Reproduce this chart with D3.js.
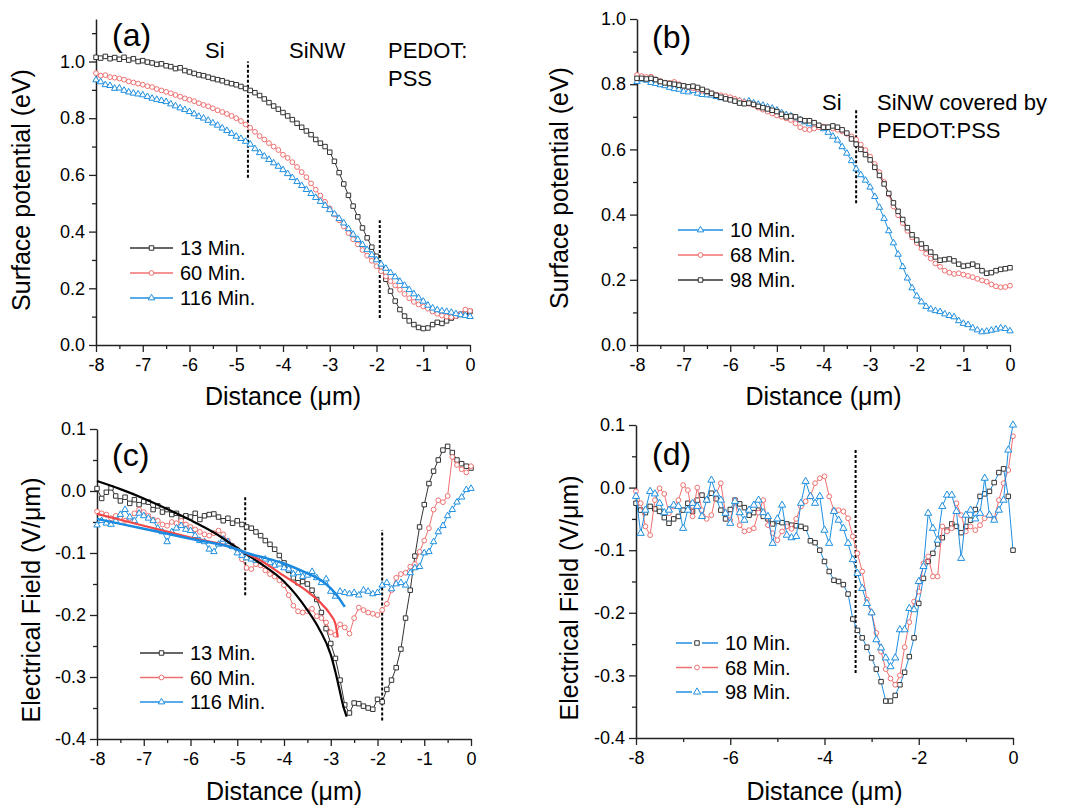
<!DOCTYPE html>
<html>
<head>
<meta charset="utf-8">
<script src="https://cdn.jsdelivr.net/npm/d3@7"></script>
<style>
  body { margin: 0; background: #fff; }
  text { font-family: "Liberation Sans", Arial, sans-serif; fill: #000; }
</style>
</head>
<body>
<div id="chart"></div>
<script>
// distance grid (um), shared by every measured curve
var dist = [
  -8,-7.9,-7.8,-7.7,-7.6,-7.5,-7.4,-7.3,-7.2,-7.1,
  -7,-6.9,-6.8,-6.7,-6.6,-6.5,-6.4,-6.3,-6.2,-6.1,
  -6,-5.9,-5.8,-5.7,-5.6,-5.5,-5.4,-5.3,-5.2,-5.1,
  -5,-4.9,-4.8,-4.7,-4.6,-4.5,-4.4,-4.3,-4.2,-4.1,
  -4,-3.9,-3.8,-3.7,-3.6,-3.5,-3.4,-3.3,-3.2,-3.1,
  -3,-2.9,-2.8,-2.7,-2.6,-2.5,-2.4,-2.3,-2.2,-2.1,
  -2,-1.9,-1.8,-1.7,-1.6,-1.5,-1.4,-1.3,-1.2,-1.1,
  -1,-0.9,-0.8,-0.7,-0.6,-0.5,-0.4,-0.3,-0.2,-0.1,
  0];

// (a) surface potential (eV)
var spA13 = [
  1.015,1.012,1.018,1.010,1.014,1.008,1.015,1.005,1.010,1.000,
  1.003,0.998,0.995,0.990,0.992,0.985,0.982,0.975,0.978,0.968,
  0.963,0.958,0.953,0.950,0.945,0.940,0.936,0.932,0.926,0.922,
  0.918,0.912,0.905,0.898,0.890,0.880,0.868,0.855,0.843,0.832,
  0.820,0.808,0.795,0.782,0.768,0.755,0.742,0.725,0.712,0.700,
  0.680,0.648,0.608,0.568,0.528,0.490,0.452,0.413,0.378,0.345,
  0.313,0.275,0.232,0.190,0.155,0.125,0.102,0.085,0.072,0.062,
  0.058,0.060,0.072,0.080,0.076,0.085,0.095,0.103,0.108,0.112,
  0.118];
var spA60 = [
  0.959,0.950,0.952,0.945,0.943,0.940,0.936,0.930,0.926,0.922,
  0.918,0.913,0.910,0.903,0.898,0.893,0.888,0.882,0.876,0.870,
  0.865,0.860,0.853,0.847,0.842,0.835,0.828,0.822,0.815,0.808,
  0.800,0.790,0.778,0.766,0.752,0.737,0.725,0.712,0.700,0.688,
  0.671,0.660,0.645,0.628,0.610,0.592,0.570,0.548,0.527,0.505,
  0.482,0.460,0.440,0.418,0.395,0.373,0.355,0.335,0.315,0.297,
  0.278,0.260,0.242,0.225,0.210,0.195,0.180,0.165,0.152,0.143,
  0.136,0.128,0.118,0.110,0.104,0.100,0.098,0.102,0.110,0.125,
  0.120];
var spA116 = [
  0.935,0.928,0.918,0.915,0.905,0.906,0.898,0.892,0.888,0.885,
  0.882,0.876,0.870,0.866,0.862,0.858,0.850,0.843,0.836,0.830,
  0.823,0.815,0.806,0.800,0.792,0.783,0.775,0.765,0.756,0.746,
  0.736,0.728,0.718,0.708,0.692,0.678,0.666,0.654,0.642,0.630,
  0.618,0.604,0.590,0.576,0.562,0.548,0.534,0.520,0.506,0.492,
  0.477,0.462,0.446,0.430,0.410,0.390,0.372,0.354,0.336,0.318,
  0.300,0.285,0.270,0.255,0.240,0.224,0.210,0.195,0.180,0.166,
  0.154,0.140,0.130,0.124,0.120,0.118,0.115,0.110,0.106,0.104,
  0.100];

// (b) surface potential (eV)
var spB10 = [
  .808,.815,.812,.805,.802,.798,.795,.790,.786,.784,
  .778,.776,.780,.772,.768,.767,.766,.762,.758,.757,
  .755,.752,.748,.745,.748,.742,.738,.735,.730,.726,
  .720,.712,.706,.702,.696,.690,.684,.678,.674,.670,
  .663,.652,.640,.628,.608,.588,.565,.540,.522,.505,
  .484,.455,.422,.388,.350,.313,.278,.240,.205,.175,
  .150,.132,.118,.110,.105,.102,.095,.090,.086,.074,
  .066,.062,.052,.046,.040,.042,.045,.048,.052,.050,
  .043];
var spB68 = [
  .828,.825,.822,.823,.815,.810,.805,.804,.807,.800,
  .795,.792,.788,.785,.780,.777,.772,.768,.766,.763,
  .760,.755,.750,.745,.740,.736,.728,.722,.716,.710,
  .704,.700,.695,.690,.680,.668,.662,.660,.664,.668,
  .670,.668,.664,.660,.655,.648,.640,.630,.615,.598,
  .578,.555,.530,.500,.462,.425,.398,.374,.350,.330,
  .313,.296,.280,.265,.250,.240,.228,.222,.218,.220,
  .216,.212,.208,.203,.198,.194,.186,.180,.177,.178,
  .182];
var spB98 = [
  .818,.818,.816,.818,.814,.808,.804,.802,.800,.797,
  .795,.792,.794,.790,.784,.778,.772,.766,.760,.755,
  .752,.748,.742,.740,.742,.738,.732,.728,.724,.720,
  .716,.708,.700,.702,.700,.692,.688,.688,.682,.674,
  .668,.668,.672,.668,.660,.650,.632,.616,.600,.584,
  .568,.545,.520,.494,.465,.436,.410,.385,.360,.338,
  .322,.310,.298,.285,.270,.260,.262,.264,.258,.248,
  .242,.244,.248,.242,.228,.220,.222,.228,.232,.234,
  .237];

// (c) electrical field (V/um)
var efC13 = [
  .004,-.012,-.002,.005,-.008,-.016,-.010,-.020,-.014,-.022,
  -.017,-.018,-.030,-.024,-.034,-.030,-.038,-.036,-.044,-.040,
  -.042,-.036,-.046,-.040,-.038,-.037,-.042,-.048,-.044,-.052,
  -.048,-.054,-.058,-.060,-.066,-.072,-.080,-.086,-.094,-.104,
  -.116,-.128,-.140,-.148,-.146,-.150,-.160,-.175,-.196,-.222,
  -.246,-.270,-.305,-.345,-.358,-.342,-.343,-.347,-.350,-.352,
  -.336,-.340,-.320,-.305,-.285,-.255,-.205,-.160,-.105,-.058,
  -.022,.012,.032,.050,.066,.072,.062,.050,.044,.040,
  .037];
var efC60 = [
  -.033,-.036,-.038,-.044,-.040,-.042,-.048,-.044,-.036,-.030,
  -.034,-.040,-.046,-.048,-.054,-.056,-.050,-.052,-.048,-.054,
  -.058,-.062,-.066,-.070,-.072,-.068,-.064,-.070,-.080,-.088,
  -.094,-.110,-.124,-.126,-.118,-.120,-.128,-.134,-.138,-.144,
  -.152,-.168,-.185,-.194,-.196,-.194,-.190,-.202,-.205,-.212,
  -.228,-.232,-.215,-.220,-.230,-.205,-.188,-.192,-.196,-.198,
  -.200,-.192,-.182,-.160,-.140,-.134,-.132,-.122,-.118,-.098,
  -.080,-.060,-.030,-.015,-.018,-.008,.055,.042,.035,.030,
  .040];
var efC116 = [
  -.055,-.048,-.052,-.054,-.048,-.038,-.030,-.042,-.048,-.036,
  -.040,-.044,-.048,-.060,-.066,-.082,-.066,-.060,-.056,-.062,
  -.064,-.072,-.080,-.082,-.094,-.098,-.086,-.078,-.082,-.090,
  -.100,-.104,-.108,-.110,-.112,-.112,-.110,-.116,-.120,-.118,
  -.124,-.126,-.134,-.132,-.138,-.136,-.130,-.140,-.148,-.142,
  -.162,-.170,-.162,-.164,-.166,-.164,-.168,-.160,-.162,-.166,
  -.164,-.152,-.148,-.158,-.150,-.148,-.152,-.132,-.124,-.122,
  -.100,-.098,-.082,-.066,-.056,-.040,-.030,-.018,-.010,.002,
  .004];

// (c) fitted curves
var fit13x = [-8,-7.5,-7,-6.5,-6,-5.5,-5,-4.8,-4.5,-4,-3.5,-3.25,-3,-2.9,-2.8,-2.75,-2.66];
var fit13y = [.016,.003,-.012,-.029,-.047,-.067,-.092,-.102,-.117,-.146,-.192,-.222,-.264,-.292,-.325,-.342,-.364];
var fit60x = [-8,-7,-6,-5,-4.8,-4.5,-4,-3.5,-3.25,-3,-2.9,-2.85];
var fit60y = [-.037,-.056,-.075,-.094,-.101,-.112,-.137,-.162,-.178,-.200,-.214,-.236];
var fit116x = [-8,-7,-6,-5,-4.8,-4.5,-4,-3.5,-3.25,-3,-2.85,-2.7];
var fit116y = [-.045,-.061,-.077,-.094,-.100,-.106,-.117,-.133,-.142,-.157,-.170,-.187];

// (d) electrical field (V/um)
var efD10 = [
  -.025,-.036,-.040,-.030,-.034,-.038,-.048,-.057,-.050,-.046,
  -.036,-.025,-.038,-.020,-.012,-.020,-.009,-.018,-.036,-.050,
  -.035,-.020,-.026,-.032,-.044,-.040,-.036,-.046,-.050,-.058,
  -.054,-.056,-.058,-.060,-.061,-.062,-.065,-.085,-.088,-.100,
  -.118,-.134,-.148,-.150,-.155,-.170,-.210,-.228,-.240,-.255,
  -.272,-.290,-.310,-.341,-.341,-.332,-.315,-.295,-.270,-.240,
  -.185,-.145,-.118,-.105,-.090,-.080,-.068,-.058,-.062,-.072,
  -.062,-.052,-.035,-.014,-.010,-.006,.008,.024,.030,-.014,
  -.100];
var efD68 = [
  -.006,-.025,-.062,-.076,-.020,-.001,-.010,-.041,-.030,-.020,
  .004,-.004,-.046,.000,-.036,-.050,-.044,-.010,.007,-.041,
  -.052,-.020,-.060,-.070,-.068,-.065,-.040,-.020,-.060,-.073,
  -.084,-.070,-.062,-.066,-.050,-.030,-.022,-.014,.007,.015,
  .018,-.014,-.036,-.036,-.038,-.049,-.078,-.105,-.134,-.179,
  -.200,-.232,-.262,-.290,-.305,-.315,-.300,-.255,-.215,-.182,
  -.166,-.121,-.110,-.142,-.142,-.062,-.070,-.065,-.025,-.044,
  -.070,-.062,-.068,-.060,-.049,-.044,-.050,-.020,.007,.028,
  .082];
var efD98 = [
  -.014,-.073,-.036,-.006,-.010,-.025,-.040,-.036,-.028,-.030,
  -.065,-.036,-.025,-.030,-.046,-.020,.012,-.010,-.020,-.041,
  -.057,-.022,-.040,-.052,-.036,-.028,-.020,-.040,-.046,-.089,
  -.050,-.028,-.076,-.080,-.078,-.025,.010,-.014,-.025,-.014,
  -.068,-.089,-.038,-.052,-.065,-.089,-.115,-.137,-.161,-.185,
  -.200,-.243,-.256,-.272,-.286,-.272,-.227,-.227,-.193,-.195,
  -.150,-.126,-.041,-.065,-.084,-.030,-.012,-.012,-.038,-.113,
  -.044,-.036,-.050,-.041,.015,-.044,-.052,-.036,-.020,.060,
  .100];

// boundary markers (dashed verticals): x, y from, y to
var dashA = [[-4.75, 0.59, 1.0], [-1.93, 0.095, 0.44]];
var dashB = [[-3.3, 0.435, 0.723]];
var dashC = [[-4.83, -0.168, -0.009], [-1.9, -0.37, -0.063]];
var dashD = [[-3.34, -0.296, 0.061]];

// ticks
var xMajor1 = [-8,-7,-6,-5,-4,-3,-2,-1,0];
var xMinor1 = [-7.5,-6.5,-5.5,-4.5,-3.5,-2.5,-1.5,-0.5];
var xMajor2 = [-8,-6,-4,-2,0];
var xMinor2 = [-7,-5,-3,-1];
var yMajorSP = [0,0.2,0.4,0.6,0.8,1.0];
var yMinorA = [0.1,0.3,0.5,0.7,0.9,1.1];
var yMinorB = [0.1,0.3,0.5,0.7,0.9];
var yMajorEF = [-0.4,-0.3,-0.2,-0.1,0,0.1];
var yMinorEF = [-0.35,-0.25,-0.15,-0.05,0.05];

var legendA = ["13 Min.", "60 Min.", "116 Min."];
var legendB = ["10 Min.", "68 Min.", "98 Min."];
var legendC = ["13 Min.", "60 Min.", "116 Min."];
var legendD = ["10 Min.", "68 Min.", "98 Min."];

var BLACK = "#333333", RED = "#f07070", BLUE = "#1f8fe0";

var svg = d3.select("#chart").append("svg")
    .attr("width", 1071)
    .attr("height", 805)
    .style("background", "#fff");

var fmt1 = function(d) { return d.toFixed(1); };
var fmt0 = function(d) { return String(d); };

function drawPanel(p) {
  var x = d3.scaleLinear().domain([-8, 0]).range([p.left, p.right]);
  var y = d3.scaleLinear().domain(p.yDomain).range([p.bottom, p.top]);
  var g = svg.append("g");

  // minor ticks
  g.append("g")
      .attr("transform", "translate(0," + p.bottom + ")")
      .call(d3.axisBottom(x).tickValues(p.xMinor).tickSize(4).tickFormat(""))
      .call(function(a) { a.select(".domain").remove(); });
  g.append("g")
      .attr("transform", "translate(" + p.left + ",0)")
      .call(d3.axisLeft(y).tickValues(p.yMinor).tickSize(4).tickFormat(""))
      .call(function(a) { a.select(".domain").remove(); });

  // major axes
  g.append("g")
      .attr("transform", "translate(0," + p.bottom + ")")
      .call(d3.axisBottom(x).tickValues(p.xMajor).tickSize(7).tickSizeOuter(0)
        .tickPadding(6).tickFormat(fmt0));
  g.append("g")
      .attr("transform", "translate(" + p.left + ",0)")
      .call(d3.axisLeft(y).tickValues(p.yMajor).tickSize(7).tickSizeOuter(0)
        .tickPadding(4).tickFormat(fmt1));
  g.selectAll(".tick line").attr("stroke", "#222").attr("stroke-width", 1.3);
  g.selectAll(".domain").attr("stroke", "#222").attr("stroke-width", 1.5);
  g.selectAll(".tick text").style("font-size", "18px")
      .style("font-family", "'Liberation Sans', Arial, sans-serif").attr("fill", "#000");

  // axis titles
  g.append("text")
      .attr("x", (p.left + p.right) / 2)
      .attr("y", p.xTitleY)
      .style("text-anchor", "middle")
      .style("font-size", "25px")
      .text("Distance (\u03bcm)");
  g.append("text")
      .attr("transform", "translate(" + p.yTitleX + "," + p.yTitleC + ") rotate(-90)")
      .style("text-anchor", "middle")
      .style("font-size", "25px")
      .text(p.yTitle);

  // dashed boundaries
  g.selectAll(".bound")
      .data(p.dashes)
      .enter()
      .append("line")
      .attr("x1", function(d) { return x(d[0]); })
      .attr("x2", function(d) { return x(d[0]); })
      .attr("y1", function(d) { return y(d[1]); })
      .attr("y2", function(d) { return y(d[2]); })
      .attr("stroke", "#000")
      .attr("stroke-width", 2)
      .attr("stroke-dasharray", "3,2");

  // measured curves
  p.series.forEach(function(s) {
    var line = d3.line()
        .x(function(d, i) { return x(dist[i]); })
        .y(function(d) { return y(d); });
    g.append("path")
        .datum(s.values)
        .attr("fill", "none")
        .attr("stroke", s.line)
        .attr("stroke-width", 1)
        .attr("d", line);
    g.selectAll(null)
        .data(s.values)
        .enter()
        .append("path")
        .attr("d", d3.symbol().type(s.symbol).size(s.size))
        .attr("transform", function(d, i) {
          return "translate(" + x(dist[i]) + "," + y(d) + ")";
        })
        .attr("fill", "#fff")
        .attr("stroke", s.color)
        .attr("stroke-width", 1);
  });

  // fitted curves
  (p.fits || []).forEach(function(f) {
    var line = d3.line()
        .curve(d3.curveMonotoneX)
        .x(function(d, i) { return x(f.xs[i]); })
        .y(function(d) { return y(d); });
    g.append("path")
        .datum(f.ys)
        .attr("fill", "none")
        .attr("stroke", f.color)
        .attr("stroke-width", f.width)
        .attr("d", line);
  });

  // legend
  var lg = p.legend;
  p.legendOrder.forEach(function(si, k) {
    var s = p.series[si];
    var ly = lg.y + k * lg.dy;
    var mid = (lg.x0 + lg.x1) / 2;
    if (lg.gap) {
      g.append("line").attr("x1", lg.x0).attr("x2", mid - 5).attr("y1", ly).attr("y2", ly)
          .attr("stroke", s.line).attr("stroke-width", 1.5);
      g.append("line").attr("x1", mid + 5).attr("x2", lg.x1).attr("y1", ly).attr("y2", ly)
          .attr("stroke", s.line).attr("stroke-width", 1.5);
    } else {
      g.append("line").attr("x1", lg.x0).attr("x2", lg.x1).attr("y1", ly).attr("y2", ly)
          .attr("stroke", s.line).attr("stroke-width", 1.5);
    }
    g.append("path")
        .attr("d", d3.symbol().type(s.symbol).size(s.size))
        .attr("transform", "translate(" + mid + "," + ly + ")")
        .attr("fill", "#fff")
        .attr("stroke", s.color)
        .attr("stroke-width", 1);
    g.append("text")
        .attr("x", lg.x1 + 7)
        .attr("y", ly + 7)
        .style("font-size", "20px")
        .text(p.legendText[k]);
  });

  // annotations
  p.notes.forEach(function(n) {
    g.append("text")
        .attr("x", n[1])
        .attr("y", n[2])
        .style("font-size", n[3] + "px")
        .text(n[0]);
  });
}

drawPanel({
  left: 96, right: 470, top: 19, bottom: 345, yDomain: [0, 1.15],
  xMajor: xMajor1, xMinor: xMinor1, yMajor: yMajorSP, yMinor: yMinorA,
  xTitleY: 405, yTitleX: 30, yTitleC: 190, yTitle: "Surface potential (eV)",
  dashes: dashA,
  series: [
    {values: spA13, color: BLACK, line: BLACK, symbol: d3.symbolSquare, size: 20},
    {values: spA60, color: RED, line: RED, symbol: d3.symbolCircle, size: 18},
    {values: spA116, color: BLUE, line: BLUE, symbol: d3.symbolTriangle, size: 18}
  ],
  legendOrder: [0, 1, 2], legendText: legendA,
  legend: {x0: 130, x1: 173, y: 248, dy: 25},
  notes: [["(a)", 112, 46, 32], ["Si", 205, 58, 22], ["SiNW", 289, 58, 22],
          ["PEDOT:", 388, 58, 22], ["PSS", 388, 86, 22]]
});

drawPanel({
  left: 637, right: 1010, top: 19, bottom: 345, yDomain: [0, 1.0],
  xMajor: xMajor1, xMinor: xMinor1, yMajor: yMajorSP, yMinor: yMinorB,
  xTitleY: 405, yTitleX: 568, yTitleC: 188, yTitle: "Surface potential (eV)",
  dashes: dashB,
  series: [
    {values: spB10, color: BLUE, line: BLUE, symbol: d3.symbolTriangle, size: 18},
    {values: spB68, color: RED, line: RED, symbol: d3.symbolCircle, size: 18},
    {values: spB98, color: BLACK, line: BLACK, symbol: d3.symbolSquare, size: 20}
  ],
  legendOrder: [0, 1, 2], legendText: legendB,
  legend: {x0: 678, x1: 723, y: 230, dy: 25},
  notes: [["(b)", 652, 48, 32], ["Si", 822, 110, 22], ["SiNW covered by", 877, 110, 22],
          ["PEDOT:PSS", 877, 138, 22]]
});

drawPanel({
  left: 97, right: 471, top: 429, bottom: 739, yDomain: [-0.4, 0.1],
  xMajor: xMajor1, xMinor: xMinor1, yMajor: yMajorEF, yMinor: yMinorEF,
  xTitleY: 800, yTitleX: 40, yTitleC: 600, yTitle: "Electrical Field (V/\u03bcm)",
  dashes: dashC,
  series: [
    {values: efC13, color: BLACK, line: BLACK, symbol: d3.symbolSquare, size: 20},
    {values: efC60, color: RED, line: RED, symbol: d3.symbolCircle, size: 18},
    {values: efC116, color: BLUE, line: BLUE, symbol: d3.symbolTriangle, size: 18}
  ],
  fits: [
    {xs: fit13x, ys: fit13y, color: "#000", width: 2.2},
    {xs: fit60x, ys: fit60y, color: "#f24848", width: 2.2},
    {xs: fit116x, ys: fit116y, color: "#1a8ae0", width: 2.5}
  ],
  legendOrder: [0, 1, 2], legendText: legendC,
  legend: {x0: 140, x1: 183, y: 653, dy: 24.5},
  notes: [["(c)", 112, 466, 32]]
});

drawPanel({
  left: 636, right: 1013, top: 425, bottom: 738, yDomain: [-0.4, 0.1],
  xMajor: xMajor2, xMinor: xMinor2, yMajor: yMajorEF, yMinor: yMinorEF,
  xTitleY: 800, yTitleX: 578, yTitleC: 598, yTitle: "Electrical Field (V/\u03bcm)",
  dashes: dashD,
  series: [
    {values: efD10, color: BLACK, line: BLUE, symbol: d3.symbolSquare, size: 20},
    {values: efD68, color: RED, line: RED, symbol: d3.symbolCircle, size: 18},
    {values: efD98, color: BLUE, line: BLUE, symbol: d3.symbolTriangle, size: 22}
  ],
  legendOrder: [0, 1, 2], legendText: legendD,
  legend: {x0: 676, x1: 718, y: 643, dy: 24.5, gap: true},
  notes: [["(d)", 652, 465, 32]]
});
</script>
</body>
</html>
